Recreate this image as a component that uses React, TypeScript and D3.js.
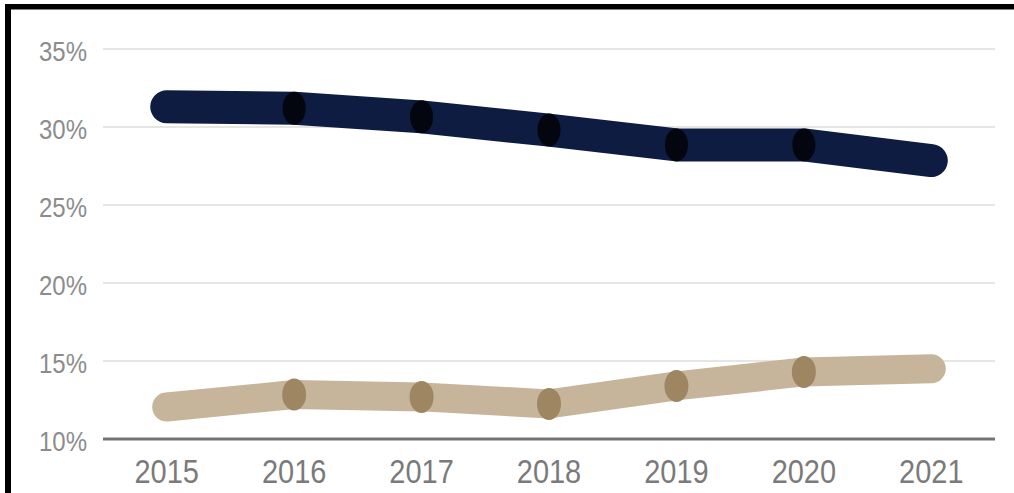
import React from "react";
import * as d3 from "d3";

const years = ["2015", "2016", "2017", "2018", "2019", "2020", "2021"];
const navySeries = [31.3, 31.2, 30.65, 29.8, 28.85, 28.85, 27.85];
const tanSeries = [12.05, 12.85, 12.7, 12.25, 13.4, 14.3, 14.5];
const yTicks = [10, 15, 20, 25, 30, 35];

const W = 1014;
const H = 493;
const left = 103;
const right = 995;
const yTop = 49; // 35%
const yBottom = 439; // 10%

const FONT = "'Liberation Sans Narrow', 'Arial Narrow', 'Liberation Sans', sans-serif";

export default function App() {
  const x = d3.scalePoint<string>().domain(years).range([left, right]).padding(0.5);
  const y = d3.scaleLinear().domain([10, 35]).range([yBottom, yTop]);
  const line = d3
    .line<number>()
    .x((_, i) => x(years[i]) as number)
    .y((d) => y(d))
    .curve(d3.curveLinear);

  return (
    <div style={{ position: "absolute", left: 0, top: 0, width: W, height: H, background: "#fff" }}>
      <svg width={W} height={H} style={{ display: "block" }}>
        <rect x={0} y={0} width={W} height={H} fill="#fff" />
        {/* frame */}
        <rect x={5} y={4} width={W - 5} height={5.5} fill="#000" />
        <rect x={5} y={4} width={6} height={H - 4} fill="#000" />

        {/* gridlines */}
        {yTicks
          .filter((t) => t !== 10)
          .map((t) => (
            <line key={t} x1={left} x2={right} y1={y(t)} y2={y(t)} stroke="#dcdcdc" strokeWidth={1.6} />
          ))}
        {/* baseline */}
        <line x1={left} x2={right} y1={y(10)} y2={y(10)} stroke="#747474" strokeWidth={3} />

        {/* y labels */}
        {yTicks.map((t) => (
          <text
            key={t}
            transform={`translate(87, ${y(t) + 11.5}) scale(1, 1.18)`}
            textAnchor="end"
            fontFamily={FONT}
            fontSize={24}
            fill="#8c8c8c"
          >
            {t}%
          </text>
        ))}

        {/* x labels */}
        {years.map((yr) => (
          <text
            key={yr}
            transform={`translate(${x(yr)}, 482.5) scale(1, 1.12)`}
            textAnchor="middle"
            fontFamily={FONT}
            fontSize={29}
            fill="#7a7a7a"
          >
            {yr}
          </text>
        ))}

        {/* tan series */}
        <path
          d={line(tanSeries) || ""}
          fill="none"
          stroke="#c6b59b"
          strokeWidth={29}
          strokeLinecap="round"
          strokeLinejoin="round"
        />
        {tanSeries.map((v, i) =>
          i === 0 || i === years.length - 1 ? null : (
            <ellipse key={i} cx={x(years[i])} cy={y(v)} rx={12} ry={16} fill="#9e8662" />
          )
        )}

        {/* navy series */}
        <path
          d={line(navySeries) || ""}
          fill="none"
          stroke="#0d1c40"
          strokeWidth={33}
          strokeLinecap="round"
          strokeLinejoin="round"
        />
        {navySeries.map((v, i) =>
          i === 0 || i === years.length - 1 ? null : (
            <ellipse key={i} cx={x(years[i])} cy={y(v)} rx={11.5} ry={16.5} fill="#03060f" />
          )
        )}
      </svg>
    </div>
  );
}
